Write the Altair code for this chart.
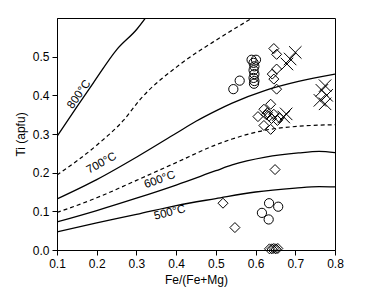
import altair as alt
import pandas as pd

# Isotherm curves (x = Fe/(Fe+Mg), y = Ti apfu)
c800_x = [0.1, 0.15, 0.192, 0.251, 0.301, 0.33]
c800_y = [0.294, 0.37, 0.433, 0.519, 0.571, 0.61]
c750_x = [0.1, 0.2, 0.267, 0.31, 0.411, 0.512, 0.6]
c750_y = [0.194, 0.271, 0.335, 0.39, 0.481, 0.55, 0.605]
c700_x = [0.1, 0.2, 0.3, 0.4, 0.45, 0.5, 0.541, 0.625, 0.708, 0.8]
c700_y = [0.132, 0.182, 0.24, 0.302, 0.333, 0.36, 0.38, 0.413, 0.436, 0.455]
c650_x = [0.1, 0.2, 0.3, 0.4, 0.5, 0.541, 0.625, 0.708, 0.8]
c650_y = [0.097, 0.135, 0.18, 0.226, 0.272, 0.287, 0.31, 0.32, 0.324]
c600_x = [0.1, 0.2, 0.3, 0.4, 0.5, 0.541, 0.625, 0.708, 0.76, 0.8]
c600_y = [0.0725, 0.102, 0.134, 0.168, 0.205, 0.22, 0.24, 0.251, 0.255, 0.252]
c500_x = [0.1, 0.2, 0.3, 0.4, 0.5, 0.6, 0.7, 0.76, 0.8]
c500_y = [0.047, 0.07, 0.092, 0.115, 0.133, 0.15, 0.16, 0.164, 0.163]

# Sample points
circle_x = [0.544, 0.560, 0.590, 0.601, 0.595, 0.597, 0.595, 0.597, 0.595, 0.597, 0.596,
            0.634, 0.616, 0.633, 0.657]
circle_y = [0.416, 0.438, 0.492, 0.492, 0.484, 0.475, 0.465, 0.455, 0.445, 0.437, 0.430,
            0.121, 0.096, 0.079, 0.112]
diamond_x = [0.646, 0.653, 0.653, 0.642, 0.646, 0.653,
             0.606, 0.621, 0.638, 0.630, 0.634, 0.646, 0.660, 0.621, 0.638, 0.655, 0.627, 0.640,
             0.649, 0.518, 0.548,
             0.635, 0.641, 0.646, 0.651, 0.656]
diamond_y = [0.521, 0.506, 0.468, 0.455, 0.442, 0.416,
             0.345, 0.364, 0.377, 0.355, 0.346, 0.351, 0.342, 0.322, 0.312, 0.335, 0.350, 0.340,
             0.208, 0.121, 0.058,
             0.003, 0.003, 0.004, 0.003, 0.004]
cross_x = [0.700, 0.687, 0.679, 0.671, 0.677,
           0.775, 0.767, 0.779, 0.762, 0.775]
cross_y = [0.511, 0.494, 0.481, 0.344, 0.352,
           0.425, 0.413, 0.400, 0.387, 0.378]

# Labels
lab_text = ["800°C", "700°C", "600°C", "500°C"]
lab_x = [0.156, 0.2125, 0.359, 0.384]
lab_y = [0.402, 0.224, 0.181, 0.096]
lab_angle = [305, 331, 340, 346]

x_ticks = [0.1, 0.2, 0.3, 0.4, 0.5, 0.6, 0.7, 0.8]
y_ticks = [0.0, 0.1, 0.2, 0.3, 0.4, 0.5]

rows = []
for name, xs_, ys_, dash in [("800", c800_x, c800_y, "s"), ("750", c750_x, c750_y, "d"),
                             ("700", c700_x, c700_y, "s"), ("650", c650_x, c650_y, "d"),
                             ("600", c600_x, c600_y, "s"), ("500", c500_x, c500_y, "s")]:
    for i, (a, b) in enumerate(zip(xs_, ys_)):
        rows.append({"curve": name, "x": a, "y": b, "i": i, "dash": dash})
curves = pd.DataFrame(rows)

xs = alt.Scale(domain=[0.1, 0.8], nice=False, zero=False)
ys = alt.Scale(domain=[0, 0.6], nice=False, zero=False)
xax = alt.Axis(values=x_ticks, format=".1f", title="Fe/(Fe+Mg)",
               grid=False, titlePadding=5, labelOverlap=False, labelFlush=False)
yax = alt.Axis(values=y_ticks, format=".1f", title="Ti (apfu)",
               grid=False, titlePadding=5, labelOverlap=False, labelFlush=False)
X = alt.X("x:Q", scale=xs, axis=xax)
Y = alt.Y("y:Q", scale=ys, axis=yax)

solid = alt.Chart(curves[curves.dash == "s"]).mark_line(
    clip=True, color="black", strokeWidth=1.3, interpolate="monotone"
).encode(x=X, y=Y, detail="curve:N", order="i:Q")
dashed = alt.Chart(curves[curves.dash == "d"]).mark_line(
    clip=True, color="black", strokeWidth=1.2, strokeDash=[4, 3], interpolate="monotone"
).encode(x=X, y=Y, detail="curve:N", order="i:Q")

circ = alt.Chart(pd.DataFrame({"x": circle_x, "y": circle_y})).mark_point(
    shape="circle", filled=False, color="black", size=85, strokeWidth=1, opacity=1
).encode(x=X, y=Y)
diam = alt.Chart(pd.DataFrame({"x": diamond_x, "y": diamond_y})).mark_point(
    shape="diamond", filled=False, color="black", size=100, strokeWidth=1, opacity=1
).encode(x=X, y=Y)
crs = alt.Chart(pd.DataFrame({"x": cross_x, "y": cross_y})).mark_point(
    shape="M-1,-1L1,1M-1,1L1,-1", filled=False, color="black", size=155, strokeWidth=1, opacity=1
).encode(x=X, y=Y)

layers = [solid, dashed, circ, diam, crs]
for t, a, b, ang in zip(lab_text, lab_x, lab_y, lab_angle):
    layers.append(
        alt.Chart(pd.DataFrame({"x": [a], "y": [b], "t": [t]})).mark_text(
            angle=ang, fontSize=11.5, font="Liberation Sans", fill="black"
        ).encode(x=X, y=Y, text="t:N")
    )

chart = alt.layer(*layers).properties(
    width=278, height=232,
    autosize=alt.AutoSizeParams(type="none"),
    padding={"left": 49, "top": 10, "right": 20, "bottom": 40},
    background="white",
).configure_view(
    stroke="black", strokeWidth=1
).configure_axis(
    domainColor="black", tickColor="black", labelColor="black", titleColor="black",
    labelFont="Liberation Sans", titleFont="Liberation Sans",
    labelFontSize=12, titleFontSize=12, titleFontWeight="normal",
    tickSize=5, labelPadding=3, domainWidth=1
)

chart.save("out.html", embed_options={"renderer": "svg", "actions": False})
